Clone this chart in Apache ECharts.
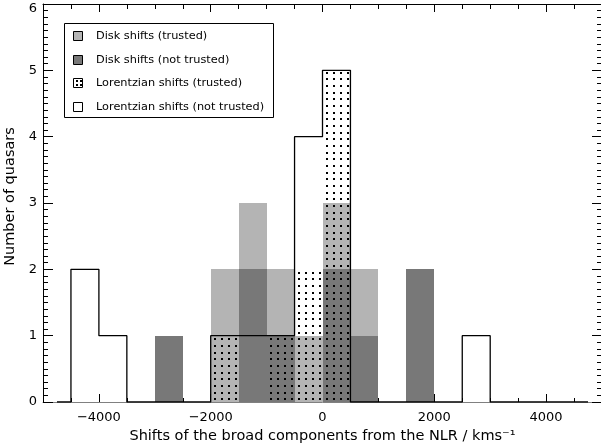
<!DOCTYPE html>
<html>
<head>
<meta charset="utf-8">
<script src="https://cdn.jsdelivr.net/npm/echarts@6/dist/echarts.min.js"></script>
<style>
  html, body { margin: 0; padding: 0; background: #fff; }
  #chart { width: 601px; height: 448px; }
</style>
</head>
<body>
<div id="chart"></div>
<script>
// Histogram bins: centres of the 500 km/s wide velocity bins
const binWidth = 500;
const binCenters = [-4750, -4250, -3750, -3250, -2750, -2250, -1750, -1250, -750, -250,
                    250, 750, 1250, 1750, 2250, 2750, 3250, 3750, 4250, 4750];

// Counts per bin
const diskTrusted      = [0, 0, 0, 0, 0, 0, 2, 3, 2, 1, 3, 2, 0, 0, 0, 0, 0, 0, 0, 0];
const diskNotTrusted   = [0, 0, 0, 0, 1, 0, 0, 2, 1, 0, 2, 1, 0, 2, 0, 0, 0, 0, 0, 0];
const lorentzTrusted   = [0, 0, 0, 0, 0, 0, 1, 0, 1, 2, 5, 0, 0, 0, 0, 0, 0, 0, 0, 0];
const lorentzNotTrusted= [0, 2, 1, 0, 0, 0, 1, 1, 1, 4, 5, 0, 0, 0, 0, 1, 0, 0, 0, 0];

// Axis ticks
const xLabelValues = [-4000, -2000, 0, 2000, 4000];
const yLabelValues = [0, 1, 2, 3, 4, 5, 6];

const seriesNames = [
  'Disk shifts (trusted)',
  'Disk shifts (not trusted)',
  'Lorentzian shifts (trusted)',
  'Lorentzian shifts (not trusted)'
];

const FONT = 'DejaVu Sans';
const LIGHT = '#b4b4b4';
const DARK = '#787878';

// Stippled fill: small black dots on a transparent tile
function makeDotTile() {
  const c = document.createElement('canvas');
  c.width = 7; c.height = 20;
  const g = c.getContext('2d');
  g.fillStyle = '#000';
  [5, 12, 18].forEach(y => g.fillRect(4, y, 2, 2));
  return c;
}
const dotPattern = { image: makeDotTile(), repeat: 'repeat' };

function pairs(counts) {
  return binCenters.map((c, i) => [c, counts[i]]);
}

function barRenderer(fill) {
  return function (params, api) {
    const c = api.value(0), n = api.value(1);
    if (!n) return null;
    const p0 = api.coord([c - binWidth / 2, n]);
    const p1 = api.coord([c + binWidth / 2, 0]);
    const x0 = Math.round(p0[0]), x1 = Math.round(p1[0]);
    const y0 = Math.round(p0[1]), y1 = Math.round(p1[1]);
    return {
      type: 'rect',
      shape: { x: x0, y: y0, width: x1 - x0, height: y1 - y0 },
      style: { fill: fill }
    };
  };
}

const xLabelSet = new Set(xLabelValues);
const fmtX = v => xLabelSet.has(v) ? String(v).replace('-', '\u2212') : '';
const yLabelSet = new Set(yLabelValues);
const yTop = yLabelValues[yLabelValues.length - 1];
// the topmost label is nudged down so it stays inside the page
const fmtY = v => !yLabelSet.has(v) ? '' : (v === yTop ? '{t|' + v + '}' : String(v));

const gridBox = { left: 43, top: 4, width: 559, height: 398, outerBoundsMode: 'none', containLabel: false };
const xRange = { min: -5000, max: 5000 };

// Legend drawn as a framed box with swatches
const legendX = 64, legendY = 23, legendW = 209, legendH = 94;
const legendRows = [36, 60, 83, 107];
const swatchFills = [LIGHT, DARK, '#fff', '#fff'];
const legendGraphics = [{
  type: 'rect',
  shape: { x: legendX + 0.5, y: legendY + 0.5, width: legendW, height: legendH },
  style: { fill: '#fff', stroke: '#000', lineWidth: 1 },
  z: 100
}];
seriesNames.forEach((name, i) => {
  const cy = legendRows[i];
  legendGraphics.push({
    type: 'rect',
    shape: { x: 73.5, y: cy - 4.5, width: 9, height: 9 },
    style: { fill: swatchFills[i], stroke: '#000', lineWidth: 1 },
    z: 101
  });
  if (i === 2) {
    [[76, cy - 3], [80, cy - 3], [76, cy + 1], [80, cy + 1]].forEach(p => {
      legendGraphics.push({
        type: 'rect',
        shape: { x: p[0], y: p[1], width: 2, height: 2 },
        style: { fill: '#000' },
        z: 102
      });
    });
  }
  legendGraphics.push({
    type: 'text',
    x: 96, y: cy,
    style: {
      text: name,
      font: '11.3px "' + FONT + '"',
      fill: '#000',
      verticalAlign: 'middle',
      align: 'left'
    },
    z: 101
  });
});

const chart = echarts.init(document.getElementById('chart'), null, { renderer: 'canvas' });

const noZero = { onZero: false };

chart.setOption({
  animation: false,
  backgroundColor: '#fff',
  grid: gridBox,
  xAxis: [
    {
      type: 'value', position: 'bottom', ...xRange, interval: 500,
      name: 'Shifts of the broad components from the NLR / kms\u207B\u00B9',
      nameLocation: 'middle', nameGap: 23,
      nameTextStyle: { fontFamily: FONT, fontSize: 14.5, color: '#000' },
      axisLine: { show: true, ...noZero, lineStyle: { color: '#808080', width: 1 } },
      axisTick: { show: true, inside: true, length: 4, lineStyle: { color: '#000' } },
      axisLabel: { formatter: fmtX, margin: 9, fontFamily: FONT, fontSize: 13, color: '#000' },
      splitLine: { show: false }
    },
    {
      type: 'value', position: 'bottom', ...xRange,
      axisLine: { show: false, ...noZero },
      axisTick: { show: true, inside: true, length: 8, customValues: xLabelValues, lineStyle: { color: '#000' } },
      axisLabel: { show: false },
      splitLine: { show: false }
    },
    {
      type: 'value', position: 'top', ...xRange, interval: 500,
      axisLine: { show: true, ...noZero, lineStyle: { color: '#000', width: 1 } },
      axisTick: { show: true, inside: true, length: 5, lineStyle: { color: '#000' } },
      axisLabel: { show: false },
      splitLine: { show: false }
    },
    {
      type: 'value', position: 'top', ...xRange,
      axisLine: { show: false, ...noZero },
      axisTick: { show: true, inside: true, length: 8, customValues: xLabelValues, lineStyle: { color: '#000' } },
      axisLabel: { show: false },
      splitLine: { show: false }
    }
  ],
  yAxis: [
    {
      type: 'value', position: 'left', min: 0, max: 6, interval: 1,
      name: 'Number of quasars',
      nameLocation: 'middle', nameGap: 21,
      nameTextStyle: { fontFamily: FONT, fontSize: 14.5, color: '#000', padding: [0, 0, 0, 13] },
      axisLine: { show: true, ...noZero, lineStyle: { color: '#000', width: 1 } },
      axisTick: { show: true, inside: true, length: 10, lineStyle: { color: '#000' } },
      minorTick: { show: true, splitNumber: 10, length: 5, lineStyle: { color: '#000' } },
      axisLabel: {
        formatter: fmtY, margin: 6, fontFamily: FONT, fontSize: 13, color: '#000',
        rich: { t: { fontFamily: FONT, fontSize: 13, color: '#000', padding: [9, 0, 0, 0] } }
      },
      splitLine: { show: false },
      minorSplitLine: { show: false }
    },
    {
      type: 'value', position: 'right', min: 0, max: 6, interval: 1,
      axisLine: { show: true, ...noZero, lineStyle: { color: '#000', width: 1 } },
      axisTick: { show: true, inside: true, length: 10, lineStyle: { color: '#000' } },
      minorTick: { show: true, splitNumber: 10, length: 5, lineStyle: { color: '#000' } },
      axisLabel: { show: false },
      splitLine: { show: false },
      minorSplitLine: { show: false }
    }
  ],
  series: [
    {
      name: seriesNames[0], type: 'custom', xAxisIndex: 0, yAxisIndex: 0,
      itemStyle: { color: LIGHT },
      renderItem: barRenderer(LIGHT),
      data: pairs(diskTrusted), z: 2
    },
    {
      name: seriesNames[1], type: 'custom', xAxisIndex: 0, yAxisIndex: 0,
      itemStyle: { color: DARK },
      renderItem: barRenderer(DARK),
      data: pairs(diskNotTrusted), z: 3
    },
    {
      name: seriesNames[2], type: 'custom', xAxisIndex: 0, yAxisIndex: 0,
      renderItem: barRenderer(dotPattern),
      data: pairs(lorentzTrusted), z: 4
    },
    {
      name: seriesNames[3], type: 'line', xAxisIndex: 0, yAxisIndex: 0,
      step: 'middle', symbol: 'none',
      lineStyle: { color: '#000', width: 1.3 },
      data: pairs(lorentzNotTrusted), z: 5
    }
  ],
  graphic: legendGraphics
});
</script>
</body>
</html>
